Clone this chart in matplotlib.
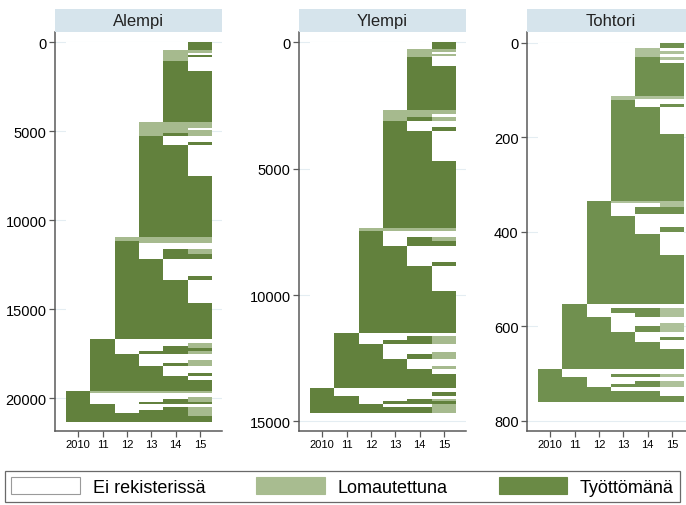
import numpy as np
import matplotlib
matplotlib.use("Agg")
import matplotlib.pyplot as plt
from matplotlib.colors import ListedColormap, BoundaryNorm
from matplotlib.patches import Patch

plt.rcParams['font.family'] = ['Liberation Sans', 'DejaVu Sans']

# ---------------- data ----------------
years = [2010, 2011, 2012, 2013, 2014, 2015]
year_labels = ['2010', '11', '12', '13', '14', '15']
state_names = ['Ei rekisterissä', 'Lomautettuna', 'Työttömänä']
state_colors = ['#ffffff', '#a6ba8e', '#62813d']
# sequence codes per year 2010..2015: '.' = Ei rekisterissä, 'L' = Lomautettuna, 'T' = Työttömänä

panel_titles = ['Alempi', 'Ylempi', 'Tohtori']

alempi_counts = [420,
                 180, 100, 150, 180, 570, 2850,
                 350, 100, 200, 150, 350, 180, 1720, 3460,
                 190, 150, 320, 280, 280, 940, 220, 1310, 1990,
                 260, 150, 150, 130, 190, 330, 150, 170, 430, 140, 220, 620,
                 120, 200, 150, 150, 130, 170, 150, 150, 180, 340]
alempi_seqs = ['.....T',
               '....LL', '....L.', '....LT', '....L.', '....T.', '....TT',
               '...LLL', '...LL.', '...LLL', '...LTL', '...T..', '...T.T', '...TT.', '...TTT',
               '..LLLL', '..TLLL', '..T...', '..T.TL', '..T.TT', '..TT..', '..TT.T', '..TTT.', '..TTTT',
               '.T....', '.T...L', '.T..TL', '.T..TT', '.T.TTL', '.TT...', '.TT..L', '.TT.TL',
               '.TTT..', '.TTT.T', '.TTTT.', '.TTTTT',
               'TLLLLL', 'T.....', 'T....L', 'T...TL', 'T..TTT', 'TT....', 'TT..TL', 'TT.TTL',
               'TTTTTL', 'TTTTTT']

ylempi_counts = [265,
                 135, 70, 60, 70, 325, 1755,
                 170, 100, 150, 250, 150, 1190, 2670,
                 90, 270, 130, 200, 655, 155, 970, 1670,
                 140, 160, 140, 310, 80, 200, 270, 130, 190, 570,
                 140, 150, 120, 100, 110, 130, 230]
ylempi_seqs = ['.....T',
               '....LL', '....L.', '....LL', '....L.', '....T.', '....TT',
               '...LLL', '...LL.', '...LTL', '...T..', '...T.T', '...TT.', '...TTT',
               '..LLLL', '..T...', '..T.TL', '..T.TT', '..TT..', '..TT.T', '..TTT.', '..TTTT',
               '.T....', '.T..TL', '.T.TTL', '.TT...', '.TT..L', '.TT.TL', '.TTT..', '.TTT.L',
               '.TTTT.', '.TTTTT',
               'T.....', 'T....T', 'TT....', 'TT..TL', 'TT.TTT', 'TTT..L', 'TTTTTL']

tohtori_counts = [11,
                  7, 6, 6, 6, 6, 70,
                  6, 4, 8, 6, 57, 141,
                  6, 8, 14, 4, 24, 11, 4, 45, 103,
                  9, 10, 9, 11, 7, 14, 10, 5, 6, 14, 43,
                  9, 8, 8, 6, 7, 9, 9, 13]
tohtori_seqs = ['.....T',
                '....L.', '....LL', '....L.', '....TL', '....T.', '....TT',
                '...LLL', '...L..', '...T..', '...T.T', '...TT.', '...TTT',
                '..TLLL', '..T..L', '..T.TT', '..T...', '..TT..', '..TT.T', '..TT..', '..TTT.', '..TTTT',
                '.T....', '.T.TTL', '.T..TL', '.TT...', '.TT..L', '.TT.TL', '.TTT..', '.TTT.T',
                '.TTT..', '.TTTT.', '.TTTTT',
                'T.....', 'T..TTL', 'TT....', 'TT..TL', 'TT.TTL', 'TTT...', 'TTTTT.', 'TTTTTT']

y_ticks = [[0, 5000, 10000, 15000, 20000],
           [0, 5000, 10000, 15000],
           [0, 200, 400, 600, 800]]
y_limits = [(21820, -580), (15370, -408), (821, -23)]

# ---------------- figure ----------------
W, H = 686, 506
fig = plt.figure(figsize=(W / 100, H / 100), dpi=100)
code = {'.': 0, 'L': 1, 'T': 2}
norm = BoundaryNorm([-0.5, 0.5, 1.5, 2.5], 3)
panel_cmaps = [ListedColormap(state_colors), ListedColormap(state_colors),
               ListedColormap(['#ffffff', '#aec19a', '#70904f'])]

panels = [(alempi_counts, alempi_seqs), (ylempi_counts, ylempi_seqs), (tohtori_counts, tohtori_seqs)]
lefts = [55, 299, 527]
ax_w = 167
top_px, bot_px = 33, 431.7
head_top = 10

for i, ((counts, seqs), left) in enumerate(zip(panels, lefts)):
    ax = fig.add_axes([left / W, 1 - bot_px / H, ax_w / W, (bot_px - top_px) / H])
    C = np.array([[code[c] for c in s] for s in seqs])
    x_edges = np.arange(len(years) + 1) + years[0] - 0.5
    y_edges = np.concatenate([[0], np.cumsum(counts)])
    ax.pcolormesh(x_edges, y_edges, C, cmap=panel_cmaps[i], norm=norm, shading='flat', zorder=2)
    ax.set_xlim(2009.05, 2015.9)
    ax.set_ylim(*y_limits[i])
    ax.set_xticks(years)
    ax.set_xticklabels(year_labels, fontsize=8)
    ax.set_yticks(y_ticks[i])
    ax.set_yticklabels([str(t) for t in y_ticks[i]], fontsize=10.5)
    ax.grid(axis='y', color='#e4edf2', lw=0.8, zorder=0)
    ax.set_axisbelow(True)
    for s in ['top', 'right']:
        ax.spines[s].set_visible(False)
    for s in ['left', 'bottom']:
        ax.spines[s].set_color('#5a5a5a')
        ax.spines[s].set_linewidth(1.1)
    ax.tick_params(axis='both', length=4, width=0.9, color='#5a5a5a', pad=2)
    ax.set_facecolor('white')

    hax = fig.add_axes([left / W, 1 - top_px / H, ax_w / W, (top_px - head_top) / H])
    hax.set_facecolor('#d6e4ec')
    hax.set_xticks([]); hax.set_yticks([])
    for s in hax.spines.values():
        s.set_visible(False)
    hax.text(0.5, 0.5, panel_titles[i], ha='center', va='center', fontsize=12, color='#222222',
             transform=hax.transAxes)

handles = [Patch(facecolor=c, edgecolor='#9a9a9a' if j == 0 else c, linewidth=0.8)
           for j, c in enumerate(['#ffffff', '#a8bc90', '#6a8a45'])]
leg = fig.legend(handles, state_names, loc='center', ncol=3, mode='expand',
                 bbox_to_anchor=(5 / W, 1 - 503 / H, 675 / W, 31 / H),
                 fontsize=13, frameon=True, fancybox=False, borderaxespad=0,
                 handlelength=3.8, handleheight=1.1, handletextpad=0.7, borderpad=0.35)
leg.get_frame().set_edgecolor('#444444')
leg.get_frame().set_linewidth(0.9)

fig.savefig('out.png', dpi=100)
